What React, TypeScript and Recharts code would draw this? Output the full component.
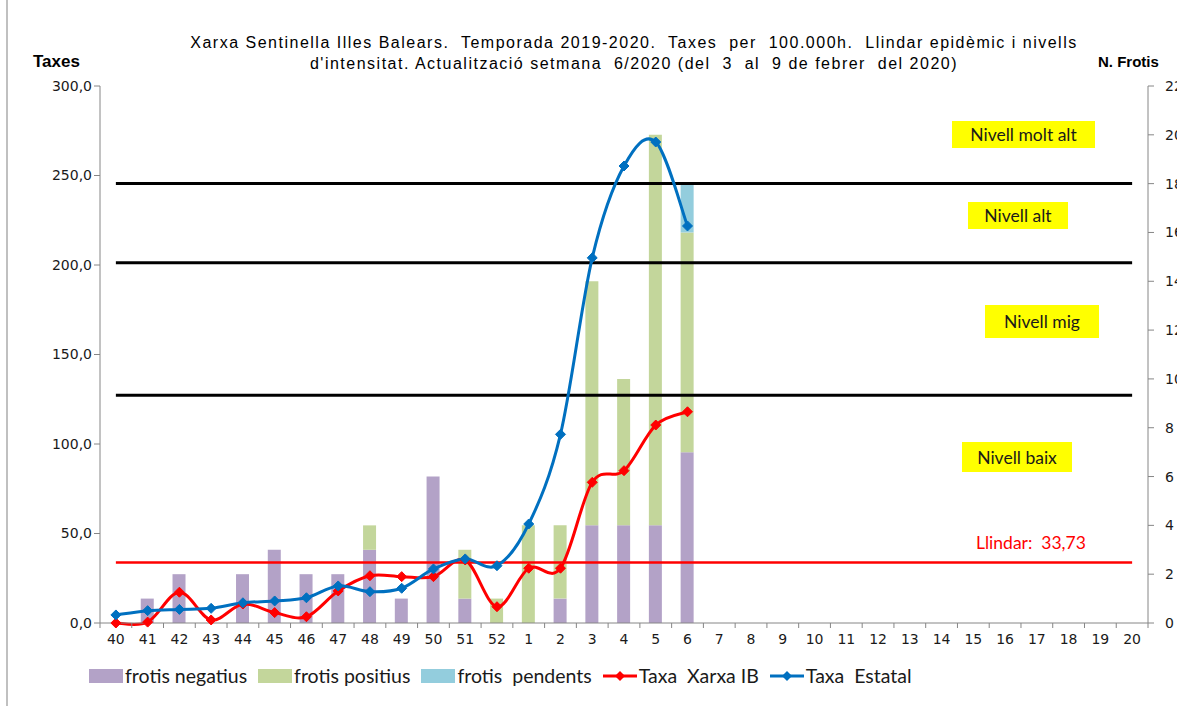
import { ComposedChart, Bar, Line, XAxis, YAxis, ReferenceLine } from "recharts";

// setmanes epidemiològiques (temporada 2019-2020)
const weeks = ["40", "41", "42", "43", "44", "45", "46", "47", "48", "49", "50", "51", "52",
  "1", "2", "3", "4", "5", "6", "7", "8", "9", "10", "11", "12", "13", "14", "15", "16", "17", "18", "19", "20"];

// nombre de frotis (eix dret)
const frotisNegatius = [0, 1, 2, 0, 2, 3, 2, 2, 3, 1, 6, 1, 0, 0, 1, 4, 4, 4, 7];
const frotisPositius = [0, 0, 0, 0, 0, 0, 0, 0, 1, 0, 0, 2, 1, 4, 3, 10, 6, 16, 9];
const frotisPendents = [0, 0, 0, 0, 0, 0, 0, 0, 0, 0, 0, 0, 0, 0, 0, 0, 0, 0, 2];

// taxes per 100.000h (eix esquerre)
const taxaXarxaIB = [0, 0.5, 17.2, 1.7, 10.6, 5.8, 3.5, 17.9, 26.4, 25.9, 25.9, 35.2, 9.1, 30.6, 30.6, 78.6, 85.1, 110.6, 118.0];
const taxaEstatal = [4.5, 6.9, 7.6, 8.2, 11.3, 12.3, 14.1, 20.7, 17.5, 19.4, 30.2, 35.8, 32.0, 55.3, 105.4, 204.0, 255.3, 268.7, 221.8];

const llindar = 33.73;
const nivells = [127.3, 201.2, 245.5];

const taxesTicks = [0, 50, 100, 150, 200, 250, 300];
const frotisTicks = [0, 2, 4, 6, 8, 10, 12, 14, 16, 18, 20, 22];

const COLORS = {
  negatius: "#b3a2c7",
  positius: "#c3d69b",
  pendents: "#93cddd",
  xarxa: "#ff0000",
  estatal: "#0070c0",
  axis: "#868686",
};

const data = weeks.map((w, i) => ({
  week: w,
  negatius: frotisNegatius[i],
  positius: frotisPositius[i],
  pendents: frotisPendents[i],
  xarxa: taxaXarxaIB[i],
  estatal: taxaEstatal[i],
}));

const CHART_W = 1210;
const CHART_H = 706;
const MARGIN = { top: 86, right: 2, bottom: 53, left: 40 };
const PLOT_W = CHART_W - MARGIN.left - MARGIN.right - 120;
const HALF_BAND = PLOT_W / weeks.length / 2;

// smoothed line like excel (catmull-rom through the points)
const excelSmooth = (ctx: any) => {
  let pts: number[][] = [];
  return {
    areaStart() {},
    areaEnd() {},
    lineStart() {
      pts = [];
    },
    point(x: number, y: number) {
      pts.push([+x, +y]);
    },
    lineEnd() {
      if (!pts.length) return;
      ctx.moveTo(pts[0][0], pts[0][1]);
      for (let i = 0; i < pts.length - 1; i++) {
        const p0 = pts[i - 1] || pts[i];
        const p1 = pts[i];
        const p2 = pts[i + 1];
        const p3 = pts[i + 2] || p2;
        const t = 1 / 6;
        ctx.bezierCurveTo(
          p1[0] + (p2[0] - p0[0]) * t,
          p1[1] + (p2[1] - p0[1]) * t,
          p2[0] - (p3[0] - p1[0]) * t,
          p2[1] - (p3[1] - p1[1]) * t,
          p2[0],
          p2[1]
        );
      }
    },
  };
};

const diamond = (color: string) => (p: any) => {
  const { cx, cy, index } = p;
  if (cx == null || cy == null || p.value == null) return <g key={`d-${index}`} />;
  const r = 5;
  return (
    <path
      key={`d-${index}`}
      d={`M${cx},${cy - r}L${cx + r},${cy}L${cx},${cy + r}L${cx - r},${cy}Z`}
      fill={color}
      stroke={color}
      strokeWidth={1}
    />
  );
};

const WeekTick = (props: any) => {
  const { x, y, payload, index } = props;
  const axisY = y - 8;
  return (
    <g>
      <line x1={x - HALF_BAND} x2={x - HALF_BAND} y1={axisY} y2={axisY + 5} stroke={COLORS.axis} />
      {index === weeks.length - 1 && (
        <line x1={x + HALF_BAND} x2={x + HALF_BAND} y1={axisY} y2={axisY + 5} stroke={COLORS.axis} />
      )}
      <text x={x} y={y} dy={13} textAnchor="middle" fontSize={14} fill="#1a1a1a" fontFamily="DejaVu Sans">
        {payload.value}
      </text>
    </g>
  );
};

const fmtTaxa = (v: number) => v.toFixed(1).replace(".", ",");

const legendItems = [
  { label: "frotis negatius", color: COLORS.negatius, kind: "box" },
  { label: "frotis positius", color: COLORS.positius, kind: "box" },
  { label: "frotis  pendents", color: COLORS.pendents, kind: "box" },
  { label: "Taxa  Xarxa IB", color: COLORS.xarxa, kind: "line" },
  { label: "Taxa  Estatal", color: COLORS.estatal, kind: "line" },
];

const nivellBoxes = [
  { text: "Nivell molt alt", left: 952, top: 121, width: 143, height: 27 },
  { text: "Nivell alt", left: 968, top: 202, width: 100, height: 27 },
  { text: "Nivell mig", left: 985, top: 305, width: 114, height: 33 },
  { text: "Nivell baix", left: 962, top: 442, width: 110, height: 30 },
];

export default function App() {
  return (
    <div
      style={{
        position: "fixed",
        left: 0,
        top: 0,
        width: 1177,
        height: 706,
        overflow: "hidden",
        background: "#fff",
        fontFamily: "'Liberation Sans', Arial, sans-serif",
      }}
    >
      <div style={{ position: "absolute", left: 6, top: 0, width: 2, height: 706, background: "#c0c0c0" }} />

      <div
        style={{
          position: "absolute",
          left: 100,
          width: 1068,
          top: 32,
          textAlign: "center",
          fontSize: 16,
          letterSpacing: 1.5,
          lineHeight: "21px",
          whiteSpace: "pre",
          color: "#000",
        }}
      >
        {"Xarxa Sentinella Illes Balears.  Temporada 2019-2020.  Taxes  per  100.000h.  Llindar epidèmic i nivells\nd'intensitat. Actualització setmana  6/2020 (del  3  al  9 de febrer  del 2020)"}
      </div>
      <div style={{ position: "absolute", left: 33, top: 52, fontSize: 17, fontWeight: "bold" }}>Taxes</div>
      <div style={{ position: "absolute", left: 1098, top: 53, fontSize: 15, fontWeight: "bold" }}>N. Frotis</div>

      <div style={{ position: "absolute", left: 0, top: 0 }}>
        <ComposedChart width={CHART_W} height={CHART_H} data={data} margin={MARGIN}>
          <XAxis
            dataKey="week"
            interval={0}
            tick={<WeekTick />}
            tickLine={false}
            tickSize={6}
            tickMargin={2}
            height={30}
            stroke={COLORS.axis}
            yAxisId="left"
          />
          <YAxis
            yAxisId="left"
            domain={[0, 300]}
            ticks={taxesTicks}
            tickFormatter={fmtTaxa}
            width={60}
            stroke={COLORS.axis}
            tickSize={6}
            tickMargin={2}
            tick={{ fontSize: 14, fill: "#1a1a1a", fontFamily: "DejaVu Sans" }}
            interval={0}
          />
          <YAxis
            yAxisId="right"
            orientation="right"
            domain={[0, 22]}
            ticks={frotisTicks}
            width={60}
            stroke={COLORS.axis}
            tickSize={6}
            tickMargin={11}
            tick={{ fontSize: 14, fill: "#1a1a1a", fontFamily: "DejaVu Sans", textAnchor: "start" }}
            interval={0}
          />
          <Bar dataKey="negatius" stackId="f" yAxisId="right" fill={COLORS.negatius} barSize={13} isAnimationActive={false} />
          <Bar dataKey="positius" stackId="f" yAxisId="right" fill={COLORS.positius} barSize={13} isAnimationActive={false} />
          <Bar dataKey="pendents" stackId="f" yAxisId="right" fill={COLORS.pendents} barSize={13} isAnimationActive={false} />
          {nivells.map((v) => (
            <ReferenceLine
              key={v}
              yAxisId="left"
              segment={[{ x: weeks[0], y: v }, { x: weeks[weeks.length - 1], y: v }]}
              stroke="#000"
              strokeWidth={3}
            />
          ))}
          <ReferenceLine
            yAxisId="left"
            segment={[{ x: weeks[0], y: llindar }, { x: weeks[weeks.length - 1], y: llindar }]}
            stroke={COLORS.xarxa}
            strokeWidth={2.5}
          />
          <Line
            yAxisId="left"
            dataKey="xarxa"
            type={excelSmooth as any}
            stroke={COLORS.xarxa}
            strokeWidth={3}
            dot={diamond(COLORS.xarxa)}
            activeDot={false}
            isAnimationActive={false}
          />
          <Line
            yAxisId="left"
            dataKey="estatal"
            type={excelSmooth as any}
            stroke={COLORS.estatal}
            strokeWidth={3}
            dot={diamond(COLORS.estatal)}
            activeDot={false}
            isAnimationActive={false}
          />
        </ComposedChart>
      </div>

      {nivellBoxes.map((b) => (
        <div
          key={b.text}
          style={{
            position: "absolute",
            left: b.left,
            top: b.top,
            width: b.width,
            height: b.height,
            background: "#ffff00",
            display: "flex",
            alignItems: "center",
            justifyContent: "center",
            fontFamily: "Lato, sans-serif",
            fontSize: 17.5,
            color: "#1a1a1a",
          }}
        >
          {b.text}
        </div>
      ))}
      <div
        style={{
          position: "absolute",
          left: 976,
          top: 532,
          fontFamily: "Lato, sans-serif",
          fontSize: 17.5,
          color: "#ff0000",
          whiteSpace: "pre",
        }}
      >
        {"Llindar:  33,73"}
      </div>

      <div
        style={{
          position: "absolute",
          left: 89,
          top: 664,
          display: "flex",
          alignItems: "center",
          fontFamily: "Lato, sans-serif",
          fontSize: 19.5,
          color: "#1a1a1a",
          whiteSpace: "pre",
        }}
      >
        {legendItems.map((it) => (
          <div key={it.label} style={{ display: "flex", alignItems: "center", marginRight: 11 }}>
            {it.kind === "box" ? (
              <div style={{ width: 34, height: 14, background: it.color, marginRight: 2 }} />
            ) : (
              <svg width={34} height={14} style={{ marginRight: 2 }}>
                <line x1={0} x2={34} y1={7} y2={7} stroke={it.color} strokeWidth={3} />
                <path d="M17,2L22,7L17,12L12,7Z" fill={it.color} />
              </svg>
            )}
            <span>{it.label}</span>
          </div>
        ))}
      </div>
    </div>
  );
}
